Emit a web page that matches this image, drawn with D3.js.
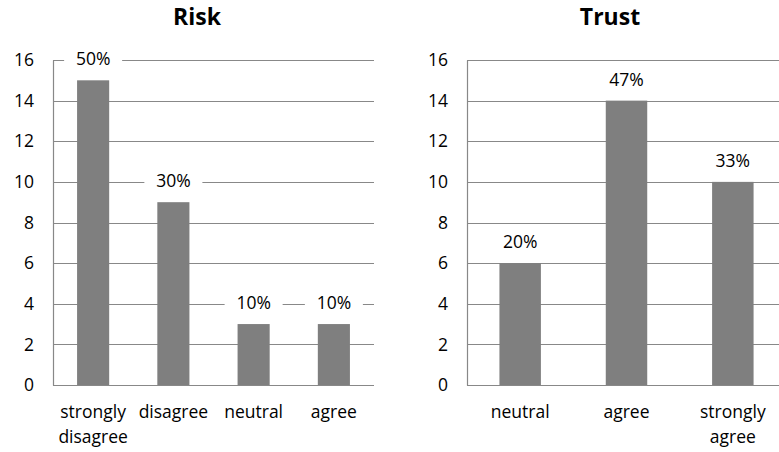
<!DOCTYPE html>
<html>
<head>
<meta charset="utf-8">
<script src="https://cdn.jsdelivr.net/npm/d3@7"></script>
<style>
  html, body { margin: 0; padding: 0; background: #fff; overflow: hidden; }
  svg { display: block; font-family: "Open Sans", "DejaVu Sans", sans-serif; }
</style>
</head>
<body>
<svg id="chart" width="779" height="452"></svg>
<script>
// Survey responses: counts per answer, with the share shown above each bar
const riskCategories = [["strongly", "disagree"], ["disagree"], ["neutral"], ["agree"]];
const riskValues = [15, 9, 3, 3];
const riskLabels = ["50%", "30%", "10%", "10%"];

const trustCategories = [["neutral"], ["agree"], ["strongly", "agree"]];
const trustValues = [6, 14, 10];
const trustLabels = ["20%", "47%", "33%"];

const yTicks = [0, 2, 4, 6, 8, 10, 12, 14, 16];

const svg = d3.select("#chart");
const BAR = "#7f7f7f";
const GRID = "#888888";
const FS = 17.5;

function drawPanel(opts) {
  const { title, titleX, cats, values, labels, x0, x1, tickRight, padInner, padOuter } = opts;
  const g = svg.append("g");
  const y = d3.scaleLinear().domain([0, 16]).range([385, 60]);
  const x = d3.scaleBand()
    .domain(d3.range(cats.length))
    .range([x0, x1])
    .paddingInner(padInner)
    .paddingOuter(padOuter);

  // title
  g.append("text")
    .attr("x", titleX).attr("y", 25)
    .attr("text-anchor", "middle")
    .attr("font-size", 23).attr("font-weight", "bold")
    .attr("fill", "#000")
    .text(title);

  // horizontal gridlines
  g.selectAll("line.grid").data(yTicks).join("line")
    .attr("class", "grid")
    .attr("x1", x0).attr("x2", x1)
    .attr("y1", d => Math.round(y(d)) + 0.5).attr("y2", d => Math.round(y(d)) + 0.5)
    .attr("stroke", GRID).attr("stroke-width", 1.2);

  // vertical axis line
  g.append("line")
    .attr("x1", x0 + 0.5).attr("x2", x0 + 0.5)
    .attr("y1", Math.round(y(16)) + 0.5).attr("y2", Math.round(y(0)) + 0.5)
    .attr("stroke", GRID).attr("stroke-width", 1.2);

  // y tick labels
  g.selectAll("text.ytick").data(yTicks).join("text")
    .attr("class", "ytick")
    .attr("x", tickRight).attr("y", d => y(d))
    .attr("dy", "0.35em")
    .attr("text-anchor", "end")
    .attr("font-size", FS).attr("fill", "#000")
    .text(d => d);

  // bars
  g.selectAll("rect.bar").data(values).join("rect")
    .attr("class", "bar")
    .attr("x", (d, i) => x(i))
    .attr("width", x.bandwidth())
    .attr("y", d => y(d))
    .attr("height", d => y(0) - y(d))
    .attr("fill", BAR);

  // value labels with white backing
  const lab = g.selectAll("g.lab").data(values).join("g")
    .attr("class", "lab")
    .attr("transform", (d, i) => `translate(${x(i) + x.bandwidth() / 2},${y(d) - 21})`);
  lab.append("rect")
    .attr("x", -29).attr("y", -11).attr("width", 58).attr("height", 22)
    .attr("fill", "#fff");
  lab.append("text")
    .attr("text-anchor", "middle").attr("dy", "0.35em")
    .attr("font-size", FS).attr("fill", "#000")
    .text((d, i) => labels[i]);

  // category labels
  const cl = g.selectAll("text.cat").data(cats).join("text")
    .attr("class", "cat")
    .attr("text-anchor", "middle")
    .attr("font-size", FS).attr("fill", "#000")
    .attr("y", 418);
  cl.selectAll("tspan").data((d, i) => d.map(t => ({ t, i }))).join("tspan")
    .attr("x", d => x(d.i) + x.bandwidth() / 2)
    .attr("dy", (d, j) => j === 0 ? 0 : 25)
    .text(d => d.t);
}

drawPanel({
  title: "Risk", titleX: 197,
  cats: riskCategories, values: riskValues, labels: riskLabels,
  x0: 53, x1: 374, tickRight: 34, padInner: 0.6, padOuter: 0.3
});

drawPanel({
  title: "Trust", titleX: 610,
  cats: trustCategories, values: trustValues, labels: trustLabels,
  x0: 467, x1: 786, tickRight: 448, padInner: 0.61, padOuter: 0.305
});
</script>
</body>
</html>
